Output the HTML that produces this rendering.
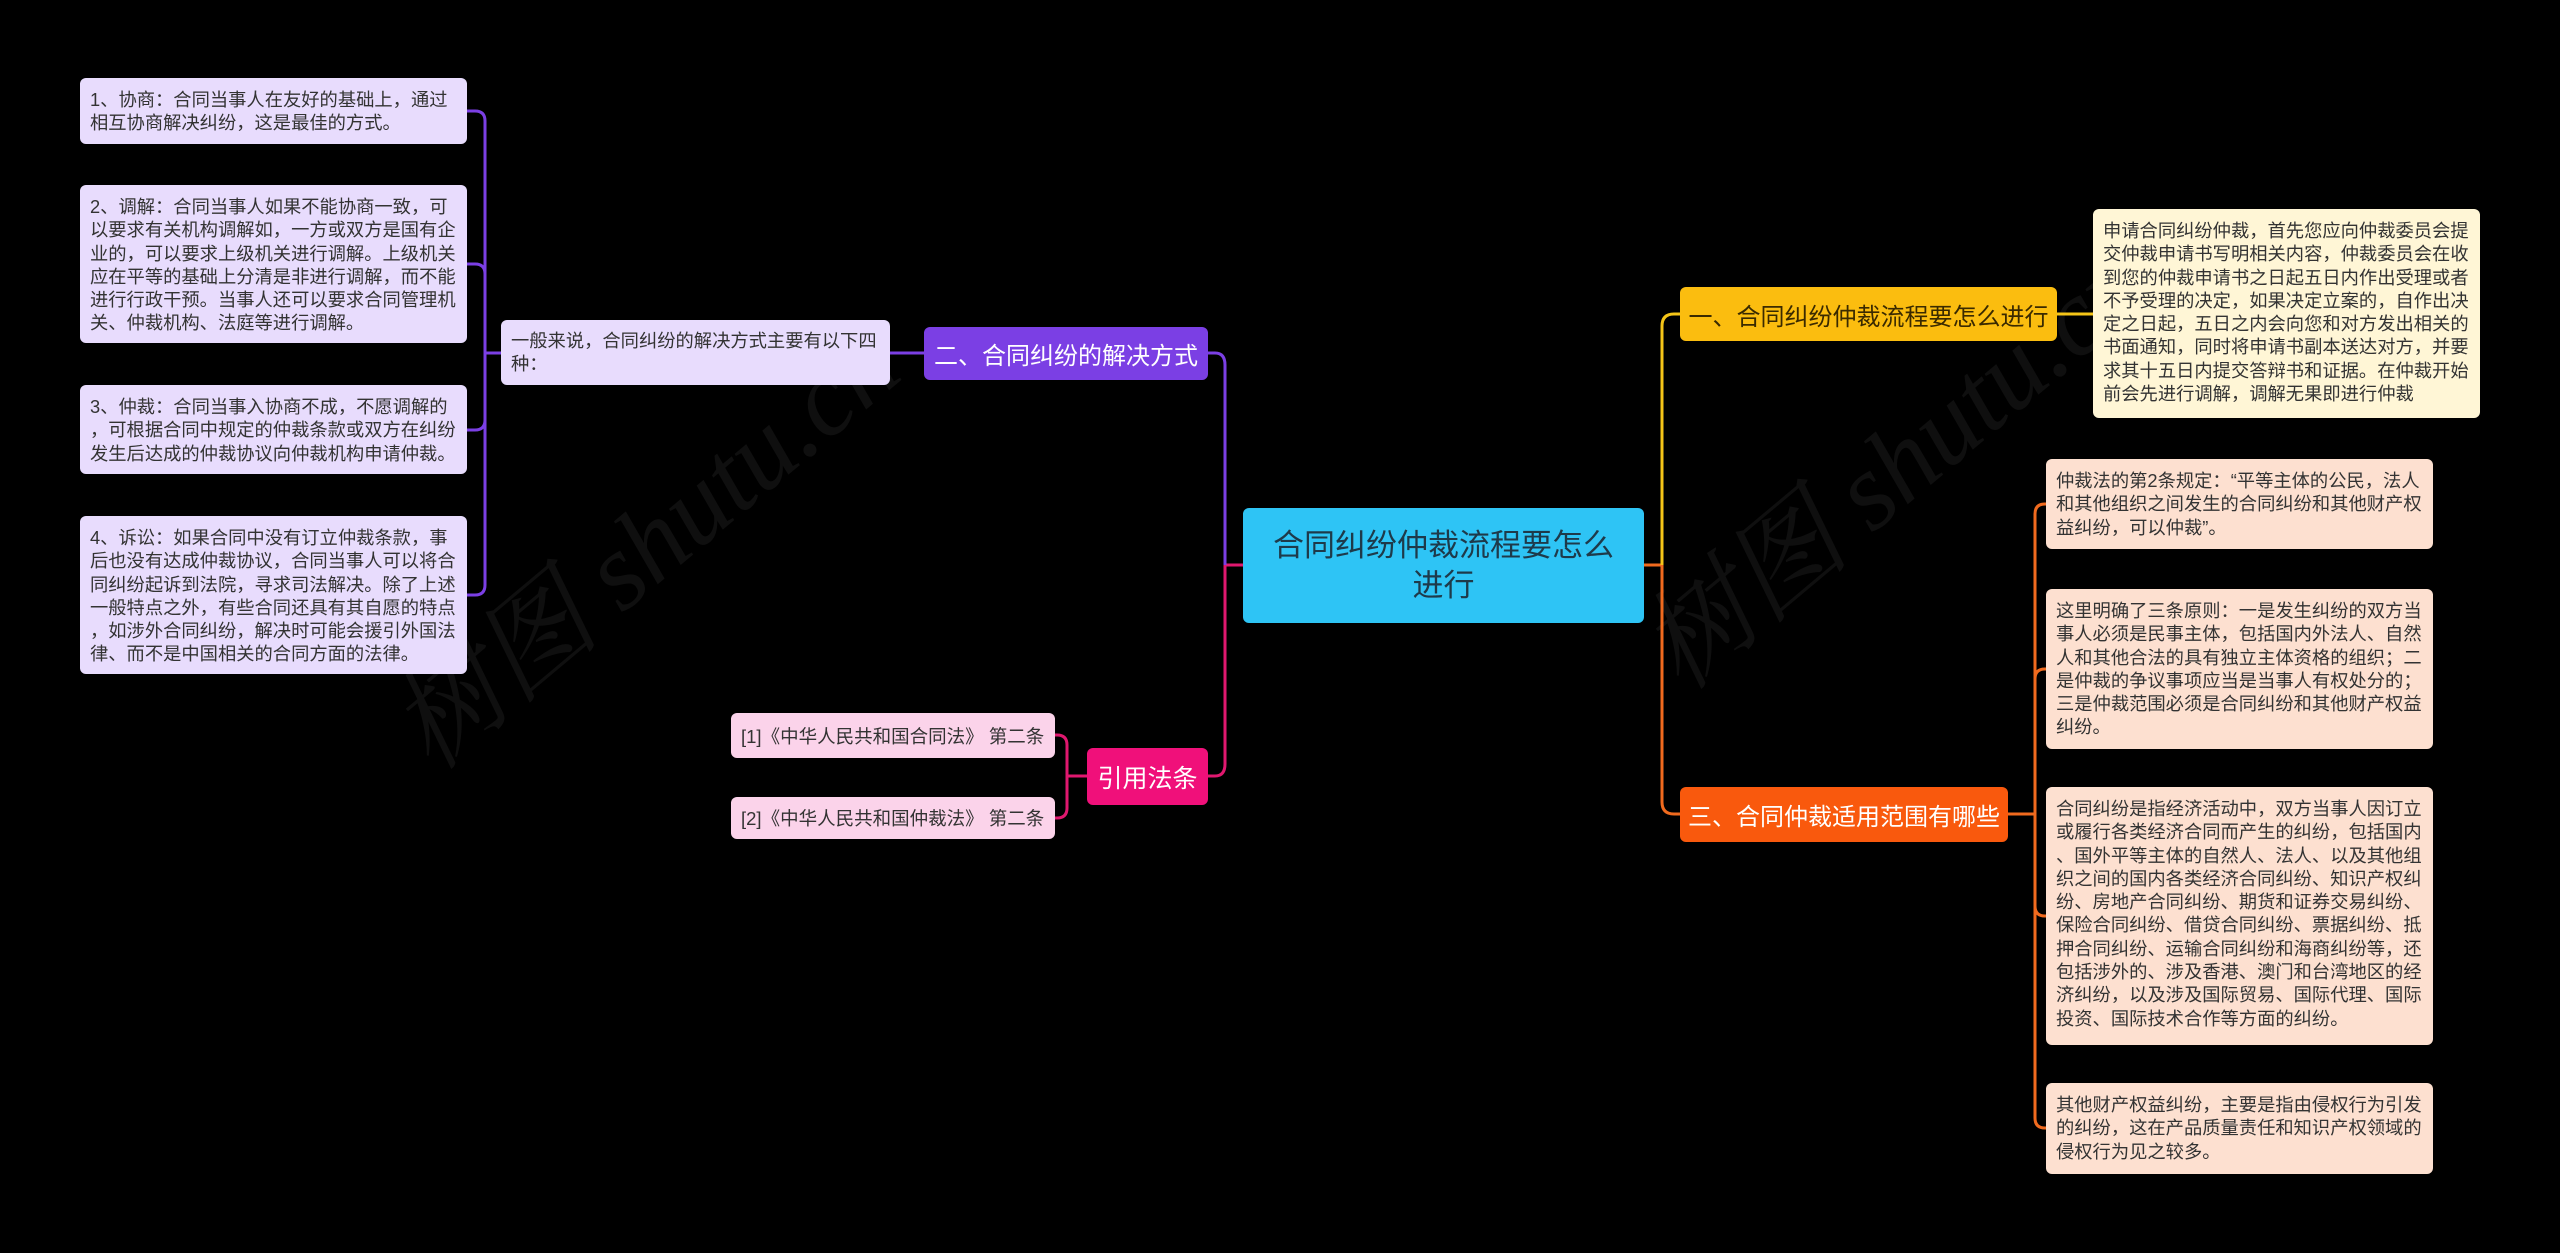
<!DOCTYPE html>
<html><head><meta charset="utf-8">
<style>
html,body{margin:0;padding:0;background:#000;}
body{width:2560px;height:1253px;position:relative;overflow:hidden;font-family:"Liberation Sans","Noto Sans CJK SC",sans-serif;}
.n{position:absolute;box-sizing:border-box;border-radius:6px;}
.leaf{font-size:18.3px;line-height:23.3px;color:#333;padding:10px 8px 8px 10px;word-break:break-all;line-break:anywhere;}
.lav{background:#e8dcfd;}
.yel{background:#fff6d6;}
.pea{background:#fde0d0;}
.ref{background:#fbd3ea;font-size:18.5px;color:#333;display:flex;align-items:center;padding:0 10px;}
.br{color:#fff;font-size:24px;display:flex;align-items:center;justify-content:center;}
.wm{position:absolute;color:rgba(70,70,70,0.22);font-size:110px;font-family:"Liberation Serif","Noto Serif CJK SC",serif;font-style:italic;transform:rotate(-40deg);white-space:nowrap;}
</style></head><body>
<div class="wm" style="left:330px;top:460px;">树图 shutu.cn</div>
<div class="wm" style="left:1580px;top:380px;">树图 shutu.cn</div>

<svg width="2560" height="1253" style="position:absolute;left:0;top:0;" fill="none" stroke-width="3">
 <path d="M1243 565 H1225" stroke="#e0186f"/>
 <path d="M1208 353 H1215 Q1225 353 1225 365 V565" stroke="#7b3fe4"/>
 <path d="M1225 565 V764 Q1225 776 1215 776 H1208" stroke="#e0186f"/>
 <path d="M924 353 H890" stroke="#7b3fe4"/>
 <path d="M501 353 H485" stroke="#7b3fe4"/>
 <path d="M467 111 H475 Q485 111 485 121 V585 Q485 595 475 595 H467" stroke="#7b3fe4"/>
 <path d="M467 264 H475 Q485 264 485 274 M467 430 H475 Q485 430 485 420" stroke="#7b3fe4"/>
 <path d="M1087 776 H1067" stroke="#e0186f"/>
 <path d="M1055 735 H1057 Q1067 735 1067 745 V808 Q1067 818 1057 818 H1055" stroke="#e0186f"/>
 <path d="M1644 565 H1662" stroke="#f06a1e"/>
 <path d="M1680 314 H1674 Q1662 314 1662 326 V565" stroke="#f5c518"/>
 <path d="M1662 565 V802 Q1662 814 1674 814 H1680" stroke="#f06a1e"/>
 <path d="M2057 314 H2093" stroke="#f5c518"/>
 <path d="M2008 814 H2035" stroke="#f06a1e"/>
 <path d="M2046 504 H2045 Q2035 504 2035 514 V1118 Q2035 1128 2045 1128 H2046" stroke="#f06a1e"/>
 <path d="M2046 669 H2045 Q2035 669 2035 679 M2046 916 H2045 Q2035 916 2035 906" stroke="#f06a1e"/>
</svg>

<div class="n" style="left:1243px;top:508px;width:401px;height:115px;background:#2ec4f5;color:#1e3a4a;font-size:31px;line-height:40px;text-align:center;display:flex;align-items:center;justify-content:center;padding:0 20px;">合同纠纷仲裁流程要怎么进行</div>

<div class="n br" style="left:924px;top:327px;width:284px;height:53px;background:#7b3fe4;">二、合同纠纷的解决方式</div>
<div class="n leaf lav" style="left:501px;top:320px;width:389px;height:65px;padding-top:9px;">一般来说，合同纠纷的解决方式主要有以下四种：</div>
<div class="n leaf lav" style="left:80px;top:78px;width:387px;height:66px;">1、协商：合同当事人在友好的基础上，通过相互协商解决纠纷，这是最佳的方式。</div>
<div class="n leaf lav" style="left:80px;top:185px;width:387px;height:158px;">2、调解：合同当事人如果不能协商一致，可以要求有关机构调解如，一方或双方是国有企业的，可以要求上级机关进行调解。上级机关应在平等的基础上分清是非进行调解，而不能进行行政干预。当事人还可以要求合同管理机关、仲裁机构、法庭等进行调解。</div>
<div class="n leaf lav" style="left:80px;top:385px;width:387px;height:89px;">3、仲裁：合同当事入协商不成，不愿调解的，可根据合同中规定的仲裁条款或双方在纠纷发生后达成的仲裁协议向仲裁机构申请仲裁。</div>
<div class="n leaf lav" style="left:80px;top:516px;width:387px;height:158px;">4、诉讼：如果合同中没有订立仲裁条款，事后也没有达成仲裁协议，合同当事人可以将合同纠纷起诉到法院，寻求司法解决。除了上述一般特点之外，有些合同还具有其自愿的特点，如涉外合同纠纷，解决时可能会援引外国法律、而不是中国相关的合同方面的法律。</div>

<div class="n br" style="left:1087px;top:748px;width:121px;height:57px;background:#f0107a;font-size:25px;">引用法条</div>
<div class="n ref" style="left:731px;top:713px;width:324px;height:45px;">[1]《中华人民共和国合同法》 第二条</div>
<div class="n ref" style="left:731px;top:797px;width:324px;height:42px;">[2]《中华人民共和国仲裁法》 第二条</div>

<div class="n br" style="left:1680px;top:287px;width:377px;height:54px;background:#fbbd0f;color:#3a2a00;">一、合同纠纷仲裁流程要怎么进行</div>
<div class="n leaf yel" style="left:2093px;top:209px;width:387px;height:209px;">申请合同纠纷仲裁，首先您应向仲裁委员会提交仲裁申请书写明相关内容，仲裁委员会在收到您的仲裁申请书之日起五日内作出受理或者不予受理的决定，如果决定立案的，自作出决定之日起，五日之内会向您和对方发出相关的书面通知，同时将申请书副本送达对方，并要求其十五日内提交答辩书和证据。在仲裁开始前会先进行调解，调解无果即进行仲裁</div>

<div class="n br" style="left:1680px;top:787px;width:328px;height:55px;background:#f9590d;">三、合同仲裁适用范围有哪些</div>
<div class="n leaf pea" style="left:2046px;top:459px;width:387px;height:90px;">仲裁法的第2条规定：“平等主体的公民，法人和其他组织之间发生的合同纠纷和其他财产权益纠纷，可以仲裁”。</div>
<div class="n leaf pea" style="left:2046px;top:589px;width:387px;height:160px;">这里明确了三条原则：一是发生纠纷的双方当事人必须是民事主体，包括国内外法人、自然人和其他合法的具有独立主体资格的组织；二是仲裁的争议事项应当是当事人有权处分的；三是仲裁范围必须是合同纠纷和其他财产权益纠纷。</div>
<div class="n leaf pea" style="left:2046px;top:787px;width:387px;height:258px;">合同纠纷是指经济活动中，双方当事人因订立或履行各类经济合同而产生的纠纷，包括国内、国外平等主体的自然人、法人、以及其他组织之间的国内各类经济合同纠纷、知识产权纠纷、房地产合同纠纷、期货和证券交易纠纷、保险合同纠纷、借贷合同纠纷、票据纠纷、抵押合同纠纷、运输合同纠纷和海商纠纷等，还包括涉外的、涉及香港、澳门和台湾地区的经济纠纷，以及涉及国际贸易、国际代理、国际投资、国际技术合作等方面的纠纷。</div>
<div class="n leaf pea" style="left:2046px;top:1083px;width:387px;height:91px;">其他财产权益纠纷，主要是指由侵权行为引发的纠纷，这在产品质量责任和知识产权领域的侵权行为见之较多。</div>
</body></html>
